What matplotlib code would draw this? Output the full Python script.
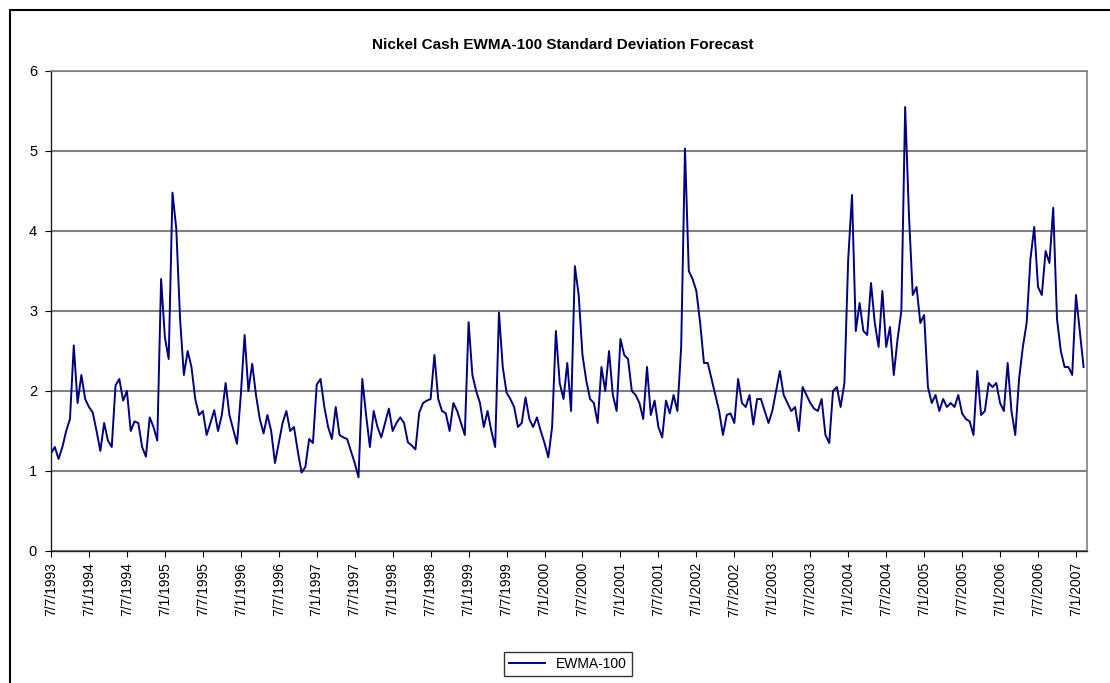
import numpy as np
import matplotlib
matplotlib.use("Agg")
import matplotlib.pyplot as plt
from matplotlib.patches import Rectangle

plt.rcParams['font.family'] = ['Liberation Sans', 'DejaVu Sans']

# tick labels (one every 10 samples)
tick_labels = ['7/7/1993', '7/1/1994', '7/7/1994', '7/1/1995', '7/7/1995', '7/1/1996',
               '7/7/1996', '7/1/1997', '7/7/1997', '7/1/1998', '7/7/1998', '7/1/1999',
               '7/7/1999', '7/1/2000', '7/7/2000', '7/1/2001', '7/7/2001', '7/1/2002',
               '7/7/2002', '7/1/2003', '7/7/2003', '7/1/2004', '7/7/2004', '7/1/2005',
               '7/7/2005', '7/1/2006', '7/7/2006', '7/1/2007']
samples_per_label = 10

# EWMA-100 standard deviation
ewma = [
    1.22, 1.3, 1.15, 1.3, 1.5, 1.65, 2.57, 1.85, 2.2, 1.9,
    1.8, 1.73, 1.5, 1.25, 1.6, 1.38, 1.3, 2.07, 2.15, 1.88,
    2.0, 1.5, 1.62, 1.6, 1.3, 1.18, 1.67, 1.55, 1.38, 3.4,
    2.67, 2.4, 4.48, 4.03, 2.9, 2.2, 2.5, 2.3, 1.9, 1.7,
    1.75, 1.45, 1.6, 1.76, 1.5, 1.7, 2.1, 1.7, 1.52, 1.34,
    1.95, 2.7, 2.0, 2.34, 1.95, 1.65, 1.47, 1.7, 1.5, 1.1,
    1.35, 1.6, 1.75, 1.5, 1.55, 1.25, 0.98, 1.05, 1.4, 1.35,
    2.08, 2.15, 1.8, 1.55, 1.4, 1.8, 1.45, 1.42, 1.4, 1.25,
    1.1, 0.92, 2.15, 1.7, 1.3, 1.75, 1.55, 1.42, 1.6, 1.78,
    1.5, 1.6, 1.67, 1.6, 1.36, 1.32, 1.27, 1.73, 1.85, 1.88,
    1.9, 2.45, 1.9, 1.75, 1.72, 1.5, 1.85, 1.75, 1.6, 1.45,
    2.86, 2.2, 2.0, 1.85, 1.55, 1.75, 1.5, 1.3, 2.98, 2.3,
    1.98, 1.9, 1.8, 1.55, 1.6, 1.92, 1.65, 1.55, 1.67, 1.5,
    1.35, 1.17, 1.55, 2.75, 2.1, 1.9, 2.35, 1.75, 3.56, 3.2,
    2.45, 2.13, 1.9, 1.85, 1.6, 2.3, 2.0, 2.5, 1.95, 1.75,
    2.65, 2.45, 2.4, 2.0, 1.95, 1.85, 1.65, 2.3, 1.7, 1.88,
    1.55, 1.42, 1.88, 1.72, 1.95, 1.75, 2.55, 5.03, 3.5, 3.4,
    3.25, 2.85, 2.35, 2.35, 2.15, 1.95, 1.75, 1.45, 1.7, 1.72,
    1.6, 2.15, 1.85, 1.8, 1.95, 1.58, 1.9, 1.9, 1.75, 1.6,
    1.75, 2.0, 2.25, 1.95, 1.85, 1.75, 1.8, 1.5, 2.05, 1.95,
    1.85, 1.78, 1.75, 1.9, 1.45, 1.35, 2.0, 2.05, 1.8, 2.1,
    3.65, 4.45, 2.75, 3.1, 2.75, 2.7, 3.35, 2.85, 2.55, 3.25,
    2.55, 2.8, 2.2, 2.65, 3.0, 5.55, 4.2, 3.2, 3.3, 2.85,
    2.95, 2.05, 1.85, 1.95, 1.75, 1.9, 1.8, 1.85, 1.8, 1.95,
    1.72, 1.65, 1.62, 1.45, 2.25, 1.7, 1.75, 2.1, 2.05, 2.1,
    1.85, 1.75, 2.35, 1.75, 1.45, 2.15, 2.55, 2.85, 3.65, 4.05,
    3.3, 3.2, 3.75, 3.6, 4.29, 2.9, 2.5, 2.3, 2.3, 2.2,
    3.2, 2.75, 2.3,
]

W, H = 1110, 683
fig = plt.figure(figsize=(W / 100, H / 100), dpi=100)
fig.patch.set_facecolor('white')

# outer chart border (cut off at right and bottom)
fig.add_artist(Rectangle((10 / W, -0.5), 2, 1 - 10 / H + 0.5, transform=fig.transFigure,
                         fill=False, edgecolor='black', linewidth=1.5))

ax = fig.add_axes([51 / W, 132 / H, 1036 / W, 480 / H])

x = np.arange(len(ewma))
ax.plot(x, ewma, color='#000080', linewidth=1.4, label='EWMA-100')

ax.set_ylim(0, 6)
ax.set_xlim(0, 27.29 * samples_per_label)
ax.set_yticks(range(0, 7))
ax.set_xticks(np.arange(len(tick_labels)) * samples_per_label)
ax.set_xticklabels(tick_labels, rotation=90, fontsize=10)
ax.tick_params(axis='y', labelsize=10.5, length=4, direction='out', pad=6)
ax.tick_params(axis='x', length=4, direction='out', pad=4)

ax.yaxis.grid(True, color='#808080', linewidth=1.5)
ax.set_axisbelow(True)
for side in ['top', 'right']:
    ax.spines[side].set_color('#808080')
    ax.spines[side].set_linewidth(1.2)
for side in ['left', 'bottom']:
    ax.spines[side].set_color('#202020')
    ax.spines[side].set_linewidth(1.0)

fig.text(563 / W, 1 - 45 / H, 'Nickel Cash EWMA-100 Standard Deviation Forecast',
         ha='center', va='center', fontsize=11, fontweight='bold')

leg = fig.legend(loc='center', bbox_to_anchor=(568 / W, 1 - 664 / H), fontsize=10,
                 frameon=True, fancybox=False, handlelength=2.6, borderpad=0.35)
leg.get_frame().set_edgecolor('black')
leg.get_frame().set_linewidth(1.0)

plt.savefig('out.png', dpi=100)
